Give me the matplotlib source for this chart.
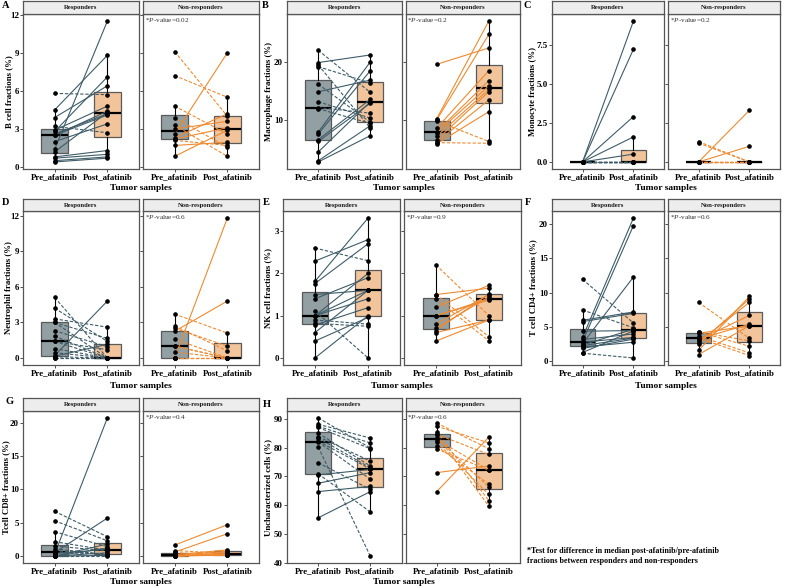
import matplotlib
matplotlib.use('Agg')
import matplotlib.pyplot as plt
import numpy as np

plt.rcParams['font.family'] = ['Liberation Serif', 'DejaVu Serif']
plt.rcParams['mathtext.fontset'] = 'custom'
plt.rcParams['mathtext.rm'] = 'Liberation Serif'
plt.rcParams['mathtext.it'] = 'Liberation Serif:italic'
plt.rcParams['mathtext.bf'] = 'Liberation Serif:bold'

groups = ['Responders', 'Non-responders']
timepoints = ['Pre_afatinib', 'Post_afatinib']
x_title = 'Tumor samples'
footnote = ('*Test for difference in median post-afatinib/pre-afatinib\n'
            'fractions between responders and non-responders')

# ---------------- data (paired: index i = same patient) ----------------
# A: B cell
a_r_pre  = [5.8, 4.5, 3.9, 3.2, 2.9, 2.8, 2.6, 2.5, 2.5, 2.0, 1.4, 1.2, 0.8, 0.7, 0.5, 0.4]
a_r_post = [5.7, 8.8, 6.4, 2.7, 4.8, 7.1, 4.2, 4.4, 4.1, 3.4, 11.5, 4.3, 1.3, 1.0, 0.8, 0.7]
a_n_pre  = [9.1, 7.2, 4.8, 3.9, 3.3, 3.0, 2.6, 2.3, 2.2, 2.1, 1.7, 0.84]
a_n_post = [4.0, 5.5, 2.6, 1.55, 0.84, 3.6, 9.0, 4.2, 3.1, 1.7, 1.95, 2.9]
# B: Macrophage
b_r_pre  = [22.0, 19.9, 19.2, 14.9, 13.2, 12.2, 8.0, 7.7, 6.7, 6.4, 4.6, 3.1, 2.9, 12.0, 16.2, 19.5]
b_r_post = [14.8, 21.2, 16.4, 16.9, 10.4, 11.25, 20.0, 18.5, 13.6, 12.95, 13.2, 9.1, 7.4, 9.5, 9.7, 8.7]
b_n_pre  = [19.6, 10.3, 10.1, 9.9, 8.7, 8.1, 7.9, 7.3, 6.7, 6.3, 6.2, 6.0]
b_n_post = [22.4, 27.0, 24.7, 6.4, 18.5, 16.8, 15.9, 15.3, 14.9, 13.5, 6.1, 11.5]
# C: Monocyte
c_r_pre  = [0.0] * 16
c_r_post = [9.0, 7.2, 2.9, 1.6, 0.5, 0, 0, 0, 0, 0, 0, 0, 0, 0, 0, 0]
c_n_pre  = [1.3, 1.2, 0, 0, 0, 0, 0, 0, 0, 0, 0, 0]
c_n_post = [0, 0, 3.3, 1.0, 0, 0, 0, 0, 0, 0, 0, 0]
# D: Neutrophil
d_r_pre  = [5.1, 4.2, 3.3, 3.0, 3.0, 2.3, 1.85, 1.4, 1.4, 0.8, 0.45, 0.2, 0.15, 0.1, 0, 0]
d_r_post = [0, 1.4, 2.6, 0, 1.65, 0.95, 0, 0.7, 0, 0, 0, 4.8, 1.15, 0, 0, 0]
d_n_pre  = [3.7, 2.7, 2.5, 2.25, 1.6, 1.0, 1.0, 0.5, 0, 0, 0, 0]
d_n_post = [2.1, 0.6, 1.0, 4.8, 0, 0, 0, 0, 11.8, 0, 0, 0]
# E: NK cell
e_r_pre  = [2.6, 2.29, 1.81, 1.76, 1.5, 1.4, 1.11, 1.0, 1.0, 1.0, 0.9, 0.82, 0.78, 0.6, 0.4, 0]
e_r_post = [2.3, 2.8, 3.31, 2.7, 1.6, 1.9, 0, 1.6, 2.0, 1.4, 0.8, 0.75, 1.19, 1.6, 0.96, 1.0]
e_n_pre  = [2.2, 1.5, 1.5, 1.4, 1.2, 1.0, 1.0, 0.8, 0.7, 0.65, 0.6, 0.4]
e_n_post = [1.0, 0.5, 1.65, 0.4, 1.72, 1.37, 1.4, 1.5, 1.45, 1.52, 0.9, 0.9]
# F: T cell CD4+
f_r_pre  = [11.96, 7.5, 6.0, 5.8, 4.4, 3.5, 3.2, 2.9, 2.8, 2.6, 2.4, 2.3, 2.1, 1.9, 1.3, 1.2]
f_r_post = [5.6, 4.9, 7.2, 7.0, 4.5, 20.9, 4.0, 19.8, 3.5, 12.3, 4.7, 3.4, 2.8, 3.25, 4.45, 0.5]
f_n_pre  = [8.6, 4.3, 4.3, 4.1, 3.7, 3.4, 3.3, 3.15, 2.8, 2.6, 1.6, 1.0]
f_n_post = [3.35, 2.2, 3.0, 5.2, 1.25, 0.86, 5.4, 6.7, 8.6, 9.1, 9.47, 5.2]
# G: T cell CD8+
g_r_pre  = [6.7, 5.3, 3.65, 2.15, 1.5, 1.1, 0.8, 0.6, 0.5, 0.4, 0.3, 0, 0, 0, 0, 0]
g_r_post = [2.9, 2.3, 1.4, 0.9, 0.8, 0.2, 0.3, 0.25, 5.7, 1.0, 20.7, 1.8, 1.2, 0.5, 0.1, 0]
g_n_pre  = [1.65, 0.83, 0.6, 0.5, 0.2, 0.1, 0.1, 0.05, 0, 0, 0, 0]
g_n_post = [4.7, 0.4, 3.35, 0.2, 0.93, 0.15, 0.73, 0.1, 0.5, 0.35, 0.3, 0.2]
# H: Uncharacterized
h_r_pre  = [90.3, 88.1, 87.4, 87.0, 85.0, 83.8, 83.3, 82.2, 82.0, 80.2, 74.7, 70.9, 70.5, 67.6, 64.7, 55.6]
h_r_post = [79.9, 83.3, 81.6, 79.6, 73.6, 75.3, 73.0, 72.6, 69.0, 42.3, 65.5, 57.65, 72.4, 71.3, 66.5, 64.7]
h_n_pre  = [88.5, 87.4, 85.5, 84.6, 84.2, 83.3, 82.8, 81.9, 80.5, 79.5, 71.3, 64.7]
h_n_post = [79.6, 81.6, 61.6, 77.6, 59.7, 66.3, 72.2, 63.7, 67.3, 72.2, 73.6, 83.6]

letters = ['A', 'B', 'C', 'D', 'E', 'F', 'G', 'H']
ylabels = ['B cell fractions (%)', 'Macrophage fractions (%)', 'Monocyte fractions (%)',
           'Neutrophil fractions (%)', 'NK cell fractions (%)', 'T cell CD4+ fractions (%)',
           'Tcell CD8+ fractions (%)', 'Uncharacterized cells (%)']
pvalues = ['0.02', '0.2', '0.2', '0.6', '0.9', '0.6', '0.4', '0.6']
yticks = [[0, 3, 6, 9, 12], [10, 20], [0, 2.5, 5, 7.5], [0, 3, 6, 9, 12],
          [0, 1, 2, 3], [0, 5, 10, 15, 20], [0, 5, 10, 15, 20], [40, 50, 60, 70, 80, 90]]
yticklabels = [['0', '3', '6', '9', '12'], ['10', '20'], ['0.0', '2.5', '5.0', '7.5'],
               ['0', '3', '6', '9', '12'], ['0', '1', '2', '3'], ['0', '5', '10', '15', '20'],
               ['0', '5', '10', '15', '20'], ['40', '50', '60', '70', '80', '90']]
panel_data = [
    (a_r_pre, a_r_post, a_n_pre, a_n_post), (b_r_pre, b_r_post, b_n_pre, b_n_post),
    (c_r_pre, c_r_post, c_n_pre, c_n_post), (d_r_pre, d_r_post, d_n_pre, d_n_post),
    (e_r_pre, e_r_post, e_n_pre, e_n_post), (f_r_pre, f_r_post, f_n_pre, f_n_post),
    (g_r_pre, g_r_post, g_n_pre, g_n_post), (h_r_pre, h_r_post, h_n_pre, h_n_post),
]

# ---------------- styling / layout ----------------
W, H = 785, 588
pre_fill, post_fill = '#929FA3', '#F2C49C'
box_edge = '#5A5A5A'
line_cols = ['#3E5C68', '#EF8A30']
frame_col = '#555555'
strip_fill = '#EDEDED'

# (left, right) of panel in px, row index
panel_cols = [(23, 259), (287, 520), (552, 780),
              (23, 259), (283, 521), (552, 780),
              (23, 259), (287, 520)]
panel_rows = [0, 0, 0, 1, 1, 1, 2, 2]
rows = [(1, 14, 169), (199, 211, 365), (398, 411, 563)]   # strip top, plot top, plot bottom
xlabel_y = [188, 386, 582]
ylabel_x = [9, 269, 533, 9, 268, 533, 6, 268]
letter_pos = [(2, 1), (262, 1), (523, 1), (2, 198), (263, 198), (525, 198), (6, 397), (263, 400)]
GAP = 4

fig = plt.figure(figsize=(W / 100, H / 100), dpi=100)


def rect(x0, y0, x1, y1):
    return [x0 / W, 1 - y1 / H, (x1 - x0) / W, (y1 - y0) / H]


def style_frame(ax):
    for s in ax.spines.values():
        s.set_color(frame_col)
        s.set_linewidth(0.9)


for k in range(8):
    L, R = panel_cols[k]
    st, pt, pb = rows[panel_rows[k]]
    fw = (R - L - GAP) / 2.0
    r_pre, r_post, n_pre, n_post = panel_data[k]
    allv = np.concatenate([r_pre, r_post, n_pre, n_post])
    lo, hi = allv.min(), allv.max()
    pad = (hi - lo) * 0.05
    ylim = (lo - pad, hi + pad)

    for g in range(2):
        x0 = L + g * (fw + GAP)
        x1 = x0 + fw
        ax = fig.add_axes(rect(x0, pt, x1, pb))
        pre = np.array([r_pre, n_pre][g], dtype=float)
        post = np.array([r_post, n_post][g], dtype=float)
        for pos, vals, fc in [(1, pre, pre_fill), (2, post, post_fill)]:
            ax.boxplot([vals], positions=[pos], widths=0.5, patch_artist=True,
                       showfliers=False, showcaps=False, whis=1.5,
                       boxprops=dict(facecolor=fc, edgecolor=box_edge, linewidth=0.9),
                       whiskerprops=dict(color='black', linewidth=0.8),
                       medianprops=dict(color='black', linewidth=1.6), zorder=1)
        for a, b in zip(pre, post):
            ls = '-' if b > a else (0, (3, 1.6))
            ax.plot([1, 2], [a, b], color=line_cols[g], lw=0.8, ls=ls, zorder=3)
        ax.plot(np.ones(len(pre)), pre, 'o', color='black', ms=2.3, zorder=4)
        ax.plot(np.full(len(post), 2.0), post, 'o', color='black', ms=2.3, zorder=4)
        ax.set_xlim(0.4, 2.6)
        ax.set_ylim(*ylim)
        ax.set_xticks([1, 2])
        ax.set_xticklabels(timepoints, fontsize=6.4, fontweight='bold')
        ax.set_yticks(yticks[k])
        if g == 0:
            ax.set_yticklabels(yticklabels[k], fontsize=6.4, fontweight='bold')
        else:
            ax.set_yticklabels([])
            ax.tick_params(axis='y', length=0)
            ax.text(0.015, 0.985, r'*$\it{P}$-value=' + pvalues[k], transform=ax.transAxes,
                    ha='left', va='top', fontsize=5.2, color='#333333')
        ax.tick_params(axis='both', length=2, width=0.6, color='#333333', pad=1.0)
        style_frame(ax)

        sax = fig.add_axes(rect(x0, st, x1, pt))
        sax.set_facecolor(strip_fill)
        sax.set_xticks([])
        sax.set_yticks([])
        style_frame(sax)
        sax.text(0.5, 0.5, groups[g], transform=sax.transAxes, ha='center', va='center',
                 fontsize=4.8, fontweight='bold', color='#1a1a1a')

    fig.text(((L + R) / 2) / W, 1 - xlabel_y[panel_rows[k]] / H,
             x_title, ha='center', va='center', fontsize=6.8, fontweight='bold')
    fig.text(ylabel_x[k] / W, 1 - ((pt + pb) / 2) / H, ylabels[k], rotation=90,
             ha='center', va='center', fontsize=6.3, fontweight='bold')
    lx, ly = letter_pos[k]
    fig.text(lx / W, 1 - ly / H, letters[k], ha='left', va='top', fontsize=7.5, fontweight='bold')

fig.text(527 / W, 1 - 547 / H, footnote, ha='left', va='top', fontsize=5.8,
         fontweight='bold', linespacing=1.3)

fig.savefig('out.png', dpi=100, facecolor='white')
